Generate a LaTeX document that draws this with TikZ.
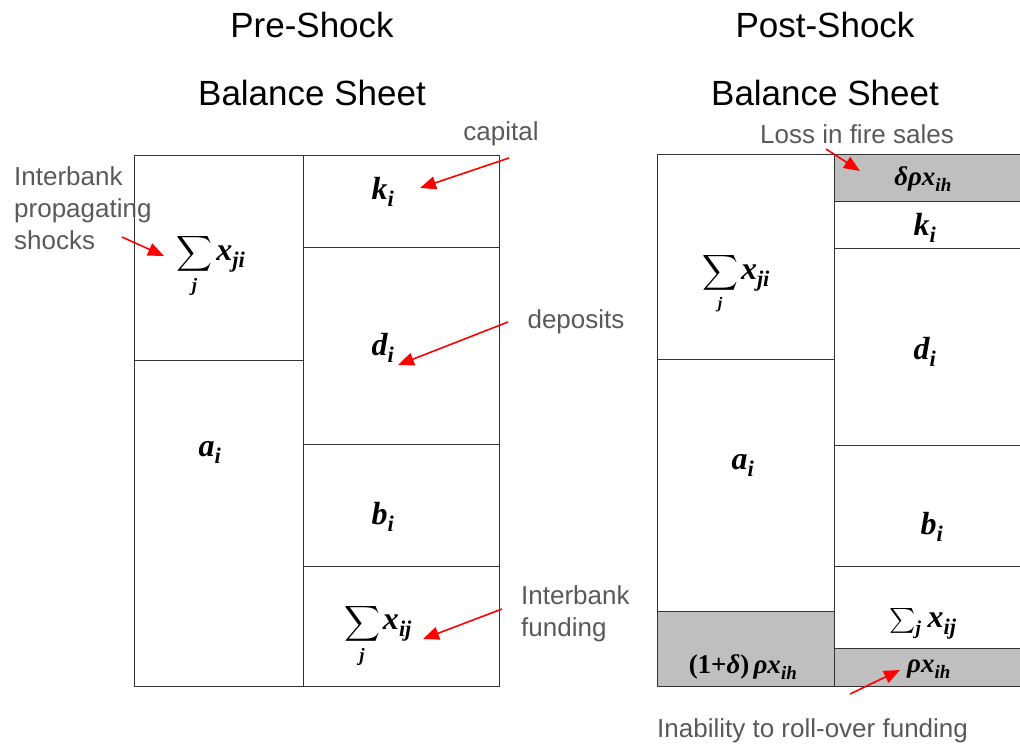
\documentclass[tikz,border=0pt]{standalone}
\usepackage{amsmath}
\usepackage{fontspec}
\setmainfont{Liberation Sans}
\newfontfamily\tmsfont{Liberation Serif}
\newcommand{\bi}[1]{\text{\tmsfont\bfseries\itshape #1}}
\newcommand{\br}[1]{\text{\tmsfont\bfseries #1}}
\usetikzlibrary{arrows.meta}
\begin{document}
\begin{tikzpicture}[x=1pt,y=-1pt,
  cell/.style={draw=black!80, line width=1pt},
  shaded/.style={cell, fill=black!25},
  title/.style={font=\fontsize{35}{40}\selectfont, text=black, inner sep=0pt},
  note/.style={font=\fontsize{26}{32}\selectfont, text=black!65, inner sep=0pt},
  mth/.style={font=\fontsize{32}{36}\selectfont, inner sep=0pt},
  smth/.style={font=\fontsize{27}{30}\selectfont, inner sep=0pt},
  arr/.style={draw=red, line width=1.6pt, -{Triangle[length=16pt,width=13pt]}}]
\useasboundingbox (0,0) rectangle (1020,744);
\clip (0,0) rectangle (1020,744);

% titles
\node[title] (t1) at (312,25) {Pre-Shock};
\node[title] (t2) at (312,93) {Balance Sheet};
\node[title] (t3) at (825,25) {Post-Shock};
\node[title] (t4) at (825,93) {Balance Sheet};

% ---- pre-shock balance sheet
\draw[cell] (134,155) rectangle (303,360);
\draw[cell] (134,360) rectangle (303,686);
\draw[cell] (303,155) rectangle (499,247);
\draw[cell] (303,247) rectangle (499,444);
\draw[cell] (303,444) rectangle (499,566);
\draw[cell] (303,566) rectangle (499,686);

\node[mth] (L1) at (211,266) {{\fontsize{27}{30}\selectfont$\displaystyle\sum_{\bi{j}}$}\kern4pt$\bi{x}_{\bi{ji}}$};
\node[mth] (L2) at (210,452) {$\bi{a}_{\bi{i}}$};
\node[mth] (R1) at (383,192) {$\bi{k}_{\bi{i}}$};
\node[mth] (R2) at (383,348) {$\bi{d}_{\bi{i}}$};
\node[mth] (R3) at (383,517) {$\bi{b}_{\bi{i}}$};
\node[mth] (R4) at (378,636) {{\fontsize{27}{30}\selectfont$\displaystyle\sum_{\rule{0pt}{14pt}\bi{j}}$}\kern3pt$\bi{x}_{\bi{ij}}$};

% ---- post-shock balance sheet
\draw[cell] (657,154) rectangle (834,359);
\draw[cell] (657,359) rectangle (834,611);
\draw[shaded] (657,611) rectangle (834,686);
\draw[shaded] (834,154) rectangle (1030,201);
\draw[cell] (834,201) rectangle (1030,248);
\draw[cell] (834,248) rectangle (1030,445);
\draw[cell] (834,445) rectangle (1030,566);
\draw[cell] (834,566) rectangle (1030,648);
\draw[shaded] (834,648) rectangle (1030,686);

\node[mth] (P1) at (736,284) {{\fontsize{23}{26}\selectfont$\displaystyle\sum_{\bi{j}}$}\kern3pt$\bi{x}_{\bi{ji}}$};
\node[mth] (P2) at (743,465) {$\bi{a}_{\bi{i}}$};
\node[smth] (P3) at (743,667) {$\br{(1+}\bi{δ}\br{)}\,\bi{ρx}_{\bi{ih}}$};
\node[smth] (Q0) at (923,179) {$\bi{δρx}_{\bi{ih}}$};
\node[mth] (Q1) at (925,228) {$\bi{k}_{\bi{i}}$};
\node[mth] (Q2) at (925,352) {$\bi{d}_{\bi{i}}$};
\node[mth] (Q3) at (932,527) {$\bi{b}_{\bi{i}}$};
\node[mth] (Q4) at (923,624) {{\fontsize{28}{30}\selectfont$\sum\nolimits_{\bi{j}}$}\kern6pt$\bi{x}_{\bi{ij}}$};
\node[smth] (Q5) at (929,669) {$\bi{ρx}_{\bi{ih}}$};

% ---- notes
\node[note] (n1) at (501,134) {capital};
\node[note, align=left, anchor=north west] (n2) at (14,166) {Interbank\\propagating\\shocks};
\node[note] (n3) at (576,322) {deposits};
\node[note, align=left, anchor=north west] (n4) at (521,585) {Interbank\\funding};
\node[note] (n5) at (857,134) {Loss in fire sales};
\node[note, anchor=west] (n6) at (657,731) {Inability to roll-over funding};

% ---- arrows
\coordinate (a1s) at (509,158); \coordinate (a1e) at (420,188);
\coordinate (a2s) at (122,237); \coordinate (a2e) at (164,256);
\coordinate (a3s) at (508,322); \coordinate (a3e) at (398,365);
\coordinate (a4s) at (502,609); \coordinate (a4e) at (423,639);
\coordinate (a5s) at (826,149); \coordinate (a5e) at (860,171);
\coordinate (a6s) at (850,694); \coordinate (a6e) at (900,670);
\draw[arr] (a1s) -- (a1e);
\draw[arr] (a2s) -- (a2e);
\draw[arr] (a3s) -- (a3e);
\draw[arr] (a4s) -- (a4e);
\draw[arr] (a5s) -- (a5e);
\draw[arr] (a6s) -- (a6e);
\end{tikzpicture}
\end{document}
